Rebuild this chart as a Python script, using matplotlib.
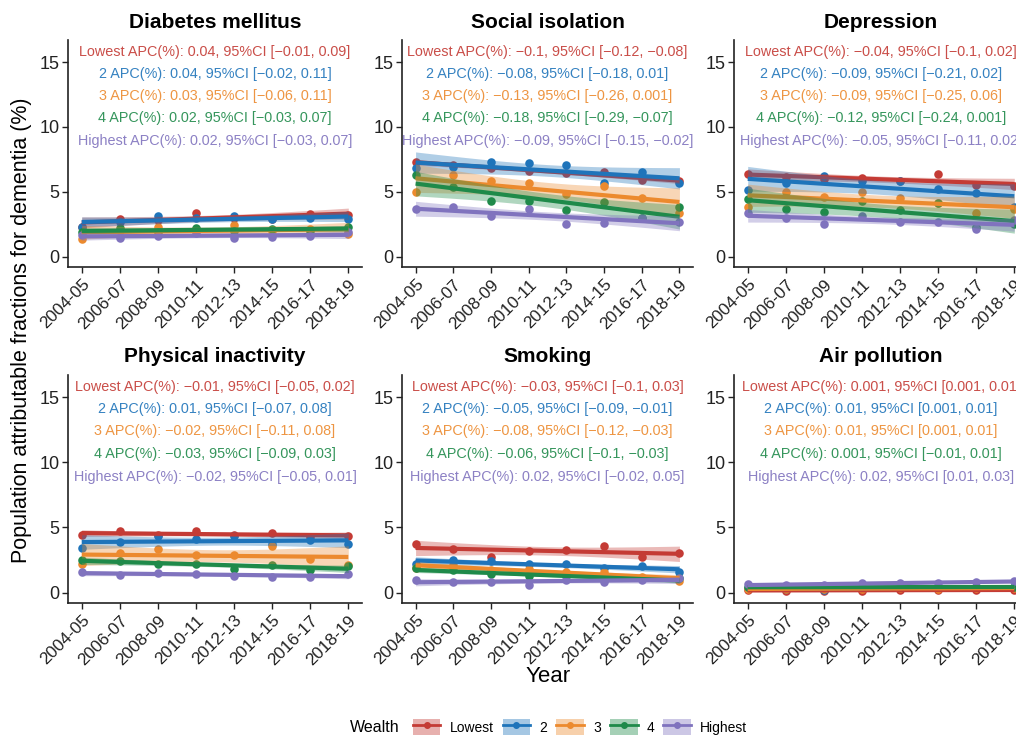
import numpy as np
import matplotlib
matplotlib.use('Agg')
import matplotlib.pyplot as plt
from matplotlib.patches import Patch
from matplotlib.lines import Line2D
from matplotlib.legend_handler import HandlerTuple

plt.rcParams['font.family'] = ['Liberation Sans', 'DejaVu Sans']

# survey waves
years = ['2004-05', '2006-07', '2008-09', '2010-11', '2012-13', '2014-15', '2016-17', '2018-19']
wealth = ['Lowest', '2', '3', '4', 'Highest']
colors = ['#C43B35', '#1F74BA', '#EC8A2E', '#1F8A4A', '#8073BE']

panels = ['Diabetes mellitus', 'Social isolation', 'Depression',
          'Physical inactivity', 'Smoking', 'Air pollution']

# PAF (%) by wealth group
diabetes_low = [2.3, 2.9, 2.8, 3.4, 3.0, 2.9, 3.3, 3.2]
diabetes_q2 = [2.3, 2.7, 3.15, 3.0, 3.1, 2.9, 3.0, 2.9]
diabetes_q3 = [1.35, 2.0, 2.25, 2.1, 2.4, 2.0, 2.1, 1.75]
diabetes_q4 = [1.9, 2.2, 1.9, 2.2, 2.0, 2.1, 2.0, 2.3]
diabetes_high = [1.7, 1.45, 1.6, 1.8, 1.4, 1.5, 1.6, 1.9]

social_low = [7.3, 7.1, 6.8, 6.6, 6.45, 6.55, 5.9, 5.85]
social_q2 = [6.8, 6.9, 7.3, 7.2, 7.05, 5.65, 6.55, 5.7]
social_q3 = [5.0, 6.3, 5.8, 5.7, 4.8, 5.45, 4.55, 3.4]
social_q4 = [6.3, 5.4, 4.3, 4.25, 3.6, 4.2, 2.95, 3.8]
social_high = [3.65, 3.8, 3.15, 3.65, 2.5, 2.6, 3.0, 2.7]

depression_low = [6.4, 6.1, 6.0, 6.05, 5.8, 6.4, 5.5, 5.45]
depression_q2 = [5.15, 5.7, 6.2, 5.8, 5.8, 5.2, 4.9, 3.85]
depression_q3 = [3.85, 5.0, 4.6, 5.0, 4.5, 4.1, 3.4, 3.7]
depression_q4 = [4.45, 3.7, 3.45, 4.25, 3.6, 4.1, 2.3, 2.5]
depression_high = [3.4, 3.0, 2.55, 3.1, 2.7, 2.7, 2.15, 2.8]

inactivity_low = [4.4, 4.7, 4.4, 4.7, 4.4, 4.6, 4.3, 4.35]
inactivity_q2 = [3.4, 3.85, 4.35, 4.1, 4.35, 3.75, 4.05, 3.7]
inactivity_q3 = [2.2, 3.05, 3.35, 2.85, 2.9, 3.55, 2.55, 2.15]
inactivity_q4 = [2.5, 2.45, 2.2, 2.2, 1.8, 2.1, 1.75, 2.05]
inactivity_high = [1.6, 1.35, 1.5, 1.4, 1.3, 1.2, 1.2, 1.45]

smoking_low = [3.75, 3.35, 2.7, 3.2, 3.25, 3.6, 2.7, 3.05]
smoking_q2 = [2.2, 2.5, 2.4, 2.2, 2.2, 1.85, 2.05, 1.6]
smoking_q3 = [1.9, 2.1, 1.7, 1.8, 1.6, 1.6, 1.2, 0.9]
smoking_q4 = [1.85, 1.7, 1.4, 1.3, 1.25, 1.0, 1.05, 1.1]
smoking_high = [0.95, 0.85, 0.85, 0.55, 0.95, 0.8, 0.95, 1.15]

air_low = [0.2, 0.15, 0.15, 0.15, 0.2, 0.2, 0.2, 0.2]
air_q2 = [0.35, 0.3, 0.2, 0.35, 0.4, 0.35, 0.4, 0.4]
air_q3 = [0.3, 0.25, 0.3, 0.3, 0.35, 0.3, 0.35, 0.35]
air_q4 = [0.4, 0.4, 0.45, 0.4, 0.45, 0.4, 0.4, 0.45]
air_high = [0.65, 0.6, 0.55, 0.75, 0.7, 0.75, 0.8, 0.9]

# annual percent change: estimate, CI low, CI high
diabetes_apc = [('0.04', '−0.01', '0.09'), ('0.04', '−0.02', '0.11'), ('0.03', '−0.06', '0.11'),
                ('0.02', '−0.03', '0.07'), ('0.02', '−0.03', '0.07')]
social_apc = [('−0.1', '−0.12', '−0.08'), ('−0.08', '−0.18', '0.01'), ('−0.13', '−0.26', '0.001'),
              ('−0.18', '−0.29', '−0.07'), ('−0.09', '−0.15', '−0.02')]
depression_apc = [('−0.04', '−0.1', '0.02'), ('−0.09', '−0.21', '0.02'), ('−0.09', '−0.25', '0.06'),
                  ('−0.12', '−0.24', '0.001'), ('−0.05', '−0.11', '0.02')]
inactivity_apc = [('−0.01', '−0.05', '0.02'), ('0.01', '−0.07', '0.08'), ('−0.02', '−0.11', '0.08'),
                  ('−0.03', '−0.09', '0.03'), ('−0.02', '−0.05', '0.01')]
smoking_apc = [('−0.03', '−0.1', '0.03'), ('−0.05', '−0.09', '−0.01'), ('−0.08', '−0.12', '−0.03'),
               ('−0.06', '−0.1', '−0.03'), ('0.02', '−0.02', '0.05')]
air_apc = [('0.001', '0.001', '0.01'), ('0.01', '0.001', '0.01'), ('0.01', '0.001', '0.01'),
           ('0.001', '−0.01', '0.01'), ('0.02', '0.01', '0.03')]

panel_data = [
    [diabetes_low, diabetes_q2, diabetes_q3, diabetes_q4, diabetes_high],
    [social_low, social_q2, social_q3, social_q4, social_high],
    [depression_low, depression_q2, depression_q3, depression_q4, depression_high],
    [inactivity_low, inactivity_q2, inactivity_q3, inactivity_q4, inactivity_high],
    [smoking_low, smoking_q2, smoking_q3, smoking_q4, smoking_high],
    [air_low, air_q2, air_q3, air_q4, air_high],
]
panel_apc = [diabetes_apc, social_apc, depression_apc, inactivity_apc, smoking_apc, air_apc]

W, H = 1016, 735
fig = plt.figure(figsize=(W / 100, H / 100), dpi=100)

# axes boxes in pixels: left, top, right, bottom
col_px = [(68, 362), (402, 693), (734, 1028)]
row_px = [(40, 267), (375, 603)]

x = np.arange(len(years))
xs = np.linspace(0, len(years) - 1, 60)
t_crit = 2.447  # t(0.975, df=6)
text_y = [15.8, 14.1, 12.4, 10.65, 8.9]

for p, name in enumerate(panels):
    r, c = divmod(p, 3)
    l, rr = col_px[c]
    t, b = row_px[r]
    ax = fig.add_axes([l / W, 1 - b / H, (rr - l) / W, (b - t) / H])

    series = panel_data[p]
    for vals, col in zip(series, colors):
        ax.scatter(x, vals, s=38, color=col, zorder=2, linewidths=0)

    z = 3
    for vals, col in zip(series, colors):
        y = np.array(vals)
        slope, icpt = np.polyfit(x, y, 1)
        fit = icpt + slope * xs
        resid = y - (icpt + slope * x)
        s = np.sqrt(np.sum(resid ** 2) / (len(x) - 2))
        se = s * np.sqrt(1 / len(x) + (xs - x.mean()) ** 2 / np.sum((x - x.mean()) ** 2))
        ax.fill_between(xs, fit - t_crit * se, fit + t_crit * se, color=col, alpha=0.35,
                        linewidth=0, zorder=z)
        ax.plot(xs, fit, color=col, lw=3, zorder=z + 1, solid_capstyle='butt')
        z += 2

    for k, (lab, col) in enumerate(zip(wealth, colors)):
        apc, lo, hi = panel_apc[p][k]
        ax.text(3.5, text_y[k], f'{lab} APC(%): {apc}, 95%CI [{lo}, {hi}]',
                color=col, alpha=0.9, fontsize=10.4, ha='center', va='center', zorder=20)

    ax.set_xlim(-0.36, 7.36)
    ax.set_ylim(-0.8, 16.7)
    ax.set_yticks([0, 5, 10, 15])
    ax.set_xticks(x)
    ax.set_xticklabels(years, rotation=45, ha='right', rotation_mode='anchor')
    ax.tick_params(axis='y', labelsize=13, length=4, width=1, colors='#222222', pad=2)
    ax.tick_params(axis='x', labelsize=12.3, length=4, width=1, colors='#222222', pad=3)
    for side in ['top', 'right']:
        ax.spines[side].set_visible(False)
    for side in ['left', 'bottom']:
        ax.spines[side].set_linewidth(1.2)
        ax.spines[side].set_color('#222222')
    ax.set_title(name, fontsize=15, fontweight='bold', pad=9)

fig.text(22 / W, 1 - 330 / H, 'Population attributable fractions for dementia (%)',
         rotation=90, fontsize=15.5, ha='center', va='center')
fig.text(548 / W, 1 - 676 / H, 'Year', fontsize=16, ha='center', va='center')

handles = [(Patch(facecolor=col, alpha=0.4, linewidth=0),
            Line2D([], [], color=col, lw=2, marker='o', ms=4)) for col in colors]
fig.legend(handles, wealth, handler_map={tuple: HandlerTuple(ndivide=1)},
           loc='center', bbox_to_anchor=(580 / W, 1 - 727 / H), ncol=5, frameon=False,
           fontsize=10, handlelength=2.0, handleheight=1.45, handletextpad=0.65,
           columnspacing=0.65, borderpad=0)
fig.text(350 / W, 1 - 727 / H, 'Wealth', fontsize=11.5, ha='left', va='center')

fig.savefig('out.png', dpi=100)
